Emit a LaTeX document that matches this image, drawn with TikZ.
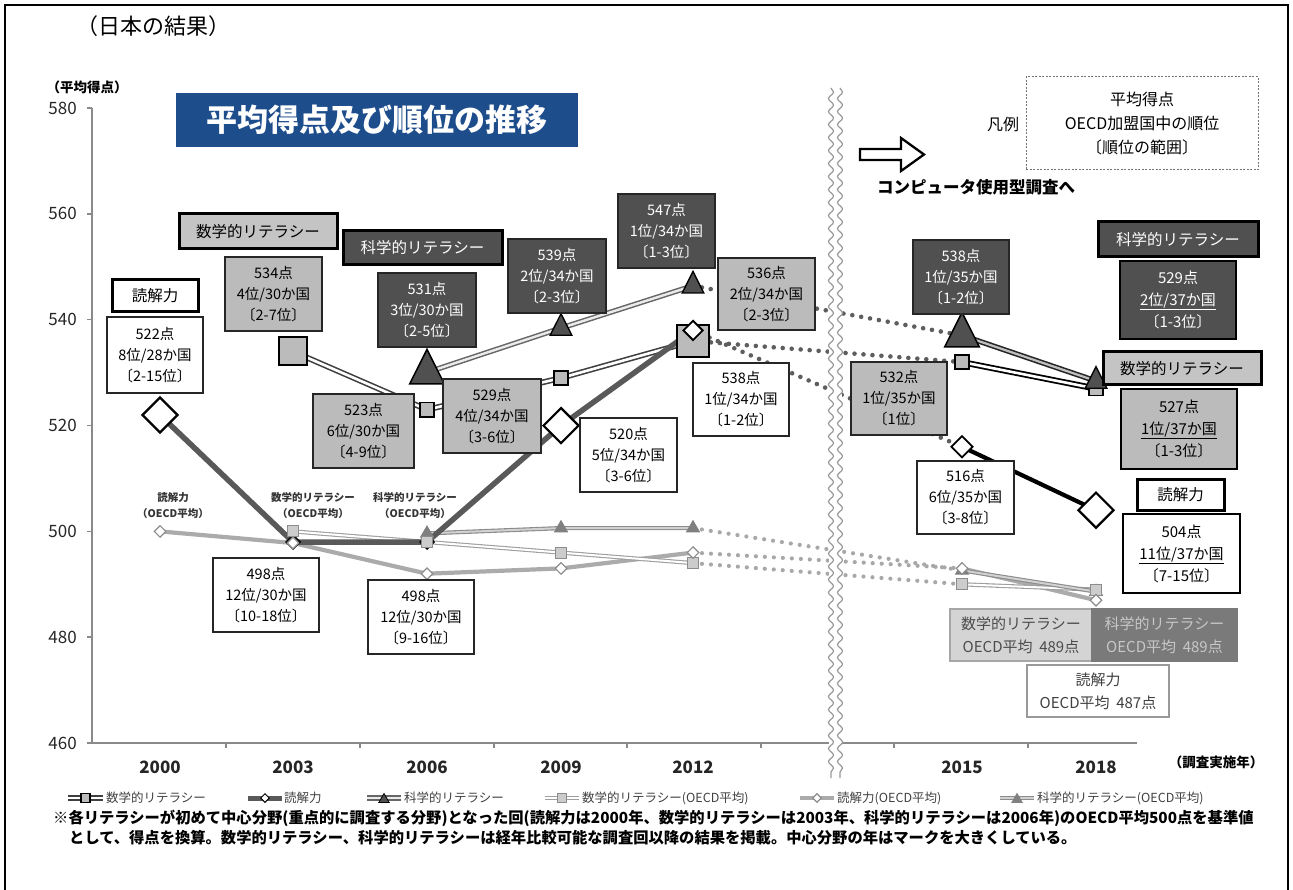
\documentclass[tikz,border=0pt]{standalone}
\usepackage{fontspec}
\setmainfont{Noto Sans CJK JP}
\usetikzlibrary{shapes.geometric,decorations.pathmorphing}
\definecolor{dkf}{HTML}{505050}
\definecolor{mdf}{HTML}{BBBBBB}
\definecolor{lbf}{HTML}{C4C4C4}
\definecolor{ttlb}{HTML}{1E4D8C}
\definecolor{axc}{HTML}{8A8A8A}
\definecolor{jdc}{HTML}{5E5E5E}
\definecolor{odc}{HTML}{A8A8A8}
\newcommand{\fsz}[2]{\fontsize{#1}{#2}\selectfont}
\pgfdeclarelayer{lines}
\pgfdeclarelayer{brk}
\pgfsetlayers{lines,brk,main}
\tikzset{
 vbox/.style={draw=black!85, line width=1.3, inner sep=0, align=center, font=\fsz{14.5}{21}},
 wbox/.style={vbox, fill=white, text=black},
 gbox/.style={vbox, fill=mdf, text=black},
 dbox/.style={vbox, fill=dkf, text=white},
 lblbox/.style={draw=black, line width=3, inner sep=0, align=center, font=\fsz{15.5}{18}},
 bigdia/.style={diamond, aspect=1, draw=black, line width=2.2, fill=white, minimum width=36, minimum height=36, inner sep=0},
 wdia/.style={diamond, aspect=1, draw=black, line width=1.8, fill=white, minimum width=20, minimum height=20, inner sep=0},
 kdia/.style={diamond, aspect=1, draw=black, line width=1, fill=black!80, minimum width=15, minimum height=15, inner sep=0},
 bigsq/.style={rectangle, draw=black, line width=2, fill=mdf, minimum size=28, inner sep=0},
 smsq/.style={rectangle, draw=black, line width=1.6, fill=mdf, minimum size=14, inner sep=0},
 bigtri/.style={regular polygon, regular polygon sides=3, draw=black, line width=1.5, fill=dkf, minimum size=40, inner sep=0, yscale=1.15},
 smtri/.style={regular polygon, regular polygon sides=3, draw=black, line width=1.3, fill=dkf, minimum size=25, inner sep=0, yscale=1.15},
 osq/.style={rectangle, draw=black!45, line width=1, fill=black!20, minimum size=11, inner sep=0},
 odia/.style={diamond, aspect=1, draw=black!45, line width=1.2, fill=white, minimum width=12, minimum height=12, inner sep=0},
 otri/.style={regular polygon, regular polygon sides=3, draw=black!50, line width=0.8, fill=black!50, minimum size=15, inner sep=0},
 jm/.style={draw=black!75, line width=1.6, double=white, double distance=2.6},
 js/.style={draw=black!60, line width=1.5, double=black!8, double distance=2.4},
 jr/.style={draw=black!65, line width=5.5, line join=round},
 jm2/.style={draw=black, line width=1.8, double=white, double distance=2.6},
 js2/.style={draw=black!85, line width=1.6, double=black!25, double distance=2.2},
 jr2/.style={draw=black, line width=4.2},
 om/.style={draw=black!38, line width=1.1, double=white, double distance=2},
 os/.style={draw=black!45, line width=1.1, double=black!18, double distance=2},
 orl/.style={draw=black!33, line width=4.2, line join=round},
 jdot/.style={draw=jdc, line width=4.6, line cap=round, dash pattern=on 0pt off 9pt},
 odot/.style={draw=odc, line width=4.2, line cap=round, dash pattern=on 0pt off 9pt},
 axln/.style={draw=axc, line width=1.4},
 ylab/.style={font=\fsz{17}{17}, text=black!85, anchor=east, inner sep=0},
 yrlab/.style={font=\bfseries\fsz{17}{17}, text=black!85, inner sep=0},
 olab/.style={font=\bfseries\fsz{10.5}{16}, text=black!80, align=center, inner sep=0},
 legt/.style={font=\fsz{12.5}{14}, text=black!75, anchor=west, inner sep=0},
 oavg/.style={inner sep=0, align=center, font=\fsz{15}{23}, minimum width=142, minimum height=52, line width=1.2},
 brkl/.style={draw=black!40, line width=1.2, decorate, decoration={snake, segment length=13pt, amplitude=2.5pt}},
}
\begin{document}
\begin{tikzpicture}[x=1pt,y=-1pt]
\useasboundingbox (0,0) rectangle (1293,890);
\draw[line width=2] (5,895) -- (5,5) -- (1288,5) -- (1288,895);

% headings
\node[font=\fsz{22}{22}, inner sep=0] (hd) at (153,26) {（日本の結果）};
\node[font=\bfseries\fsz{13.5}{14}, inner sep=0] (yunit) at (87,87) {（平均得点）};
\node[fill=ttlb, minimum width=402, minimum height=54, text=white, font=\bfseries\fsz{31}{31}, inner sep=0] (ttl) at (377,120) {平均得点及び順位の推移};

% axes
\begin{pgfonlayer}{lines}
\draw[axln] (92,108) -- (92,743) -- (1137,743);
\foreach \v in {0,...,6} \draw[axln] (87,108+\v*105.83) -- (92,108+\v*105.83);
\foreach \x in {226,360,494,627,761,894,1028} \draw[axln] (\x,743) -- (\x,748);
\end{pgfonlayer}
\foreach \v/\l in {0/580,1/560,2/540,3/520,4/500,5/480,6/460} \node[ylab] at (77,108+\v*105.83) {\l};
\foreach \x/\l in {160/2000,293/2003,427/2006,561/2009,693/2012,962/2015,1096/2018} \node[yrlab] at (\x,767) {\l};
\node[font=\bfseries\fsz{13.5}{14}, inner sep=0] (yrunit) at (1216,762) {（調査実施年）};

% break
\begin{pgfonlayer}{brk}
\fill[white] (829,84) rectangle (842,780);
\draw[brkl] (831,88) -- (831,778);
\draw[brkl] (840,88) -- (840,778);
\end{pgfonlayer}

% Japan math markers
\node[bigsq] (m03) at (293,351.5) {};
\node[smsq] (m06) at (427,409.7) {};
\node[smsq] (m09) at (561,378) {};
\node[bigsq, minimum size=32] (m12) at (693,341) {};
\node[smsq] (m15) at (962,362.1) {};
\node[smsq] (m18) at (1096,388.6) {};
% Japan science markers
\node[bigtri] (s06) at (427,372.4) {};
\node[smtri] (s09) at (561,328.1) {};
\node[smtri] (s12) at (693,285.8) {};
\node[bigtri] (s15) at (962,335.4) {};
\node[smtri] (s18) at (1096,381) {};
% Japan reading markers
\node[bigdia] (r00) at (160,415) {};
\node[kdia] (r03) at (293,542) {};
\node[kdia] (r06) at (427,542) {};
\node[bigdia] (r09) at (561,425.6) {};
\node[wdia] (r12) at (693,330.4) {};
\node[wdia, minimum width=22, minimum height=22] (r15) at (962,446.8) {};
\node[bigdia] (r18) at (1096,510.2) {};
% OECD markers
\node[otri] (os06) at (427,533.4) {};
\node[otri] (os09) at (561,528.1) {};
\node[otri] (os12) at (693,528.1) {};
\node[otri] (os15) at (962,570.4) {};
\node[otri] (os18) at (1096,591.6) {};
\node[osq] (om03) at (293,531.4) {};
\node[osq] (om06) at (427,542) {};
\node[osq] (om09) at (561,552.6) {};
\node[osq] (om12) at (693,563.1) {};
\node[osq] (om15) at (962,584.3) {};
\node[osq] (om18) at (1096,589.6) {};
\node[odia] (or00) at (160,531.4) {};
\node[odia] (or03) at (293,543) {};
\node[odia] (or06) at (427,573.7) {};
\node[odia] (or09) at (561,568.4) {};
\node[odia] (or12) at (693,552.6) {};
\node[odia] (or15) at (962,568.4) {};
\node[odia] (or18) at (1096,600.2) {};

% series lines
\begin{pgfonlayer}{lines}
\draw[odot] (os12.center) -- (os15.center);
\draw[odot] (or12.center) -- (or15.center);
\draw[odot] (om12.center) -- (om15.center);
\draw[orl] (or00.center) -- (or03.center) -- (or06.center) -- (or09.center) -- (or12.center);
\draw[orl] (or15.center) -- (or18.center);
\draw[om] (om03.center) -- (om06.center) -- (om09.center) -- (om12.center);
\draw[om] (om15.center) -- (om18.center);
\draw[os] (os06.center) -- (os09.center) -- (os12.center);
\draw[os] (os15.center) -- (os18.center);
\draw[jdot] (s12.center) -- (s15.center);
\draw[jdot] (m12.center) -- (m15.center);
\draw[jdot] (r12.center) -- (r15.center);
\draw[jm] (m03.center) -- (m06.center) -- (m09.center) -- (m12.center);
\draw[js] (s06.center) -- (s09.center) -- (s12.center);
\draw[jr] (r00.center) -- (r03.center) -- (r06.center) -- (r09.center) -- (r12.center);
\draw[jm2] (m15.center) -- (m18.center);
\draw[js2] (s15.center) -- (s18.center);
\draw[jr2] (r15.center) -- (r18.center);
\end{pgfonlayer}

% OECD small labels
\node[olab] (olr) at (173,506) {読解力\\（OECD平均）};
\node[olab] (olm) at (313,506) {数学的リテラシー\\（OECD平均）};
\node[olab] (ols) at (415,506) {科学的リテラシー\\（OECD平均）};

% value boxes
\node[lblbox, fill=white, minimum width=86, minimum height=32] (lr1) at (155,296) {読解力};
\node[wbox, minimum width=96, minimum height=76] (b522) at (155,355) {522点\\8位/28か国\\〔2-15位〕};
\node[lblbox, fill=lbf, minimum width=158, minimum height=35] (lm1) at (258,231.5) {数学的リテラシー};
\node[gbox, minimum width=97, minimum height=74] (b534) at (273.5,294) {534点\\4位/30か国\\〔2-7位〕};
\node[lblbox, fill=dkf, text=white, minimum width=159, minimum height=34] (ls1) at (422.5,248) {科学的リテラシー};
\node[dbox, minimum width=98, minimum height=74] (b531) at (427,310) {531点\\3位/30か国\\〔2-5位〕};
\node[dbox, minimum width=98, minimum height=74] (b539) at (557,276) {539点\\2位/34か国\\〔2-3位〕};
\node[dbox, minimum width=97, minimum height=74] (b547) at (666.5,231) {547点\\1位/34か国\\〔1-3位〕};
\node[gbox, minimum width=97, minimum height=72] (b536) at (766.5,294) {536点\\2位/34か国\\〔2-3位〕};
\node[gbox, minimum width=101, minimum height=74] (b523) at (363.5,431) {523点\\6位/30か国\\〔4-9位〕};
\node[gbox, minimum width=98, minimum height=74] (b529) at (492,416) {529点\\4位/34か国\\〔3-6位〕};
\node[wbox, minimum width=97, minimum height=74] (b520) at (628.5,455) {520点\\5位/34か国\\〔3-6位〕};
\node[wbox, minimum width=96, minimum height=73] (b538r) at (741,399.5) {538点\\1位/34か国\\〔1-2位〕};
\node[wbox, minimum width=106, minimum height=74] (b498a) at (266,595) {498点\\12位/30か国\\〔10-18位〕};
\node[wbox, minimum width=106, minimum height=74] (b498b) at (421,617) {498点\\12位/30か国\\〔9-16位〕};
\node[dbox, minimum width=96, minimum height=74] (b538s) at (961,277) {538点\\1位/35か国\\〔1-2位〕};
\node[gbox, minimum width=96, minimum height=73] (b532) at (899,398.5) {532点\\1位/35か国\\〔1位〕};
\node[wbox, minimum width=97, minimum height=73] (b516) at (965.5,497.5) {516点\\6位/35か国\\〔3-8位〕};
\node[lblbox, fill=dkf, text=white, minimum width=160, minimum height=35] (ls2) at (1178,239.5) {科学的リテラシー};
\node[dbox, draw=black, line width=2.6, font=\fsz{15}{22}, minimum width=116, minimum height=78] (b529s) at (1178,300) {529点\\\underline{2位/37か国}\\〔1-3位〕};
\node[lblbox, fill=lbf, minimum width=158, minimum height=33] (lm2) at (1182,368.5) {数学的リテラシー};
\node[gbox, draw=black, line width=2.6, font=\fsz{15}{22}, minimum width=116, minimum height=80] (b527) at (1179,429) {527点\\\underline{1位/37か国}\\〔1-3位〕};
\node[lblbox, fill=white, minimum width=87, minimum height=31] (lr2) at (1180.5,494.5) {読解力};
\node[wbox, draw=black, line width=2.6, font=\fsz{15}{22}, minimum width=117, minimum height=79] (b504) at (1181.5,553.5) {504点\\\underline{11位/37か国}\\〔7-15位〕};

% OECD average boxes
\node[oavg, fill=black!17, draw=black!35, text=black!70] (avm) at (1021,635) {数学的リテラシー\\OECD平均\ \ 489点};
\node[oavg, fill=black!52, draw=black!52, text=black!22, minimum width=145] (avs) at (1164.5,635) {科学的リテラシー\\OECD平均\ \ 489点};
\node[oavg, fill=white, draw=black!40, text=black!75] (avr) at (1098,691) {読解力\\OECD平均\ \ 487点};

% legend box and arrow
\node[draw=black!55, line width=1, dash pattern=on 2pt off 1.5pt, minimum width=232, minimum height=93, inner sep=0, align=center, font=\fsz{16}{24}] (lgd) at (1142,123.5) {平均得点\\OECD加盟国中の順位\\〔順位の範囲〕};
\node[font=\fsz{16}{16}, inner sep=0] (hanrei) at (1003,124) {凡例};
\draw[line width=2.3, fill=white, line join=miter] (860,149) -- (901,149) -- (901,138) -- (924,154.5) -- (901,171) -- (901,160) -- (860,160) -- cycle;
\node[font=\bfseries\fsz{16.5}{17}, inner sep=0] (cbt) at (976,187) {コンピュータ使用型調査へ};

% bottom legend
\coordinate (la1) at (68,798); \coordinate (lb1) at (103,798);
\coordinate (la2) at (248,798); \coordinate (lb2) at (282,798);
\coordinate (la3) at (367,798); \coordinate (lb3) at (401,798);
\coordinate (la4) at (545,798); \coordinate (lb4) at (579,798);
\coordinate (la5) at (800,798); \coordinate (lb5) at (834,798);
\coordinate (la6) at (1000,798); \coordinate (lb6) at (1034,798);
\draw[jm] (la1) -- (lb1);
\draw[jr, line width=5] (la2) -- (lb2);
\draw[js] (la3) -- (lb3);
\draw[om] (la4) -- (lb4);
\draw[orl, line width=3.5] (la5) -- (lb5);
\draw[os] (la6) -- (lb6);
\node[smsq, minimum size=9, line width=1.4] (lk1) at (85.5,798) {};
\node[diamond, aspect=1, draw=black, fill=white, line width=1, minimum width=9, minimum height=9, inner sep=0] (lk2) at (265,798) {};
\node[regular polygon, regular polygon sides=3, draw=black, fill=dkf, line width=0.8, minimum size=12, inner sep=0] (lk3) at (384,799.5) {};
\node[osq, minimum size=9] (lk4) at (562,798) {};
\node[odia, minimum width=9, minimum height=9] (lk5) at (817,798) {};
\node[otri, minimum size=12] (lk6) at (1017,799.5) {};
\node[legt] (lt1) at (106,798) {数学的リテラシー};
\node[legt] (lt2) at (284,798) {読解力};
\node[legt] (lt3) at (404,798) {科学的リテラシー};
\node[legt] (lt4) at (582,798) {数学的リテラシー(OECD平均)};
\node[legt] (lt5) at (837,798) {読解力(OECD平均)};
\node[legt] (lt6) at (1037,798) {科学的リテラシー(OECD平均)};

% note
\node[font=\bfseries\fsz{15.3}{20}, anchor=west, inner sep=0] (nt1) at (53,818) {※各リテラシーが初めて中心分野(重点的に調査する分野)となった回(読解力は2000年、数学的リテラシーは2003年、科学的リテラシーは2006年)のOECD平均500点を基準値};
\node[font=\bfseries\fsz{15.3}{20}, anchor=west, inner sep=0] (nt2) at (69,838) {として、得点を換算。数学的リテラシー、科学的リテラシーは経年比較可能な調査回以降の結果を掲載。中心分野の年はマークを大きくしている。};
\end{tikzpicture}
\end{document}
